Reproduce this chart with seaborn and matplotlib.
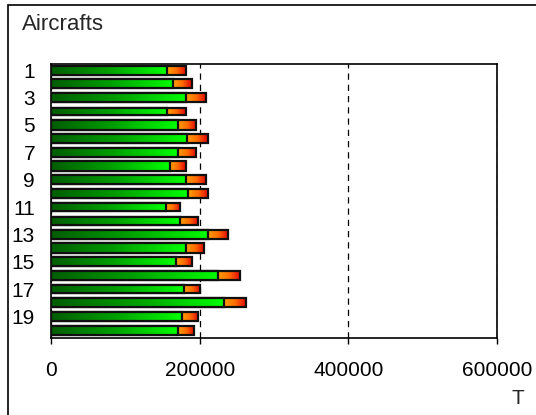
import numpy as np
import pandas as pd
import matplotlib
matplotlib.use("Agg")
import matplotlib.pyplot as plt
import seaborn as sns
from matplotlib.colors import LinearSegmentedColormap
from matplotlib.patches import Rectangle

# values
aircraft = [str(i) for i in range(1, 21)]
green_part = [155800, 164400, 181000, 156200, 170200, 183300, 170200, 159800, 181000, 183700,
              154400, 172900, 210800, 181000, 167500, 224800, 178300, 232500, 176100, 170200]
total = [181500, 189600, 208600, 181500, 195000, 210800, 195000, 181000, 208600, 210800,
         173800, 198200, 238400, 205400, 189600, 254600, 200400, 262800, 197700, 192300]
bar_thickness = [0.68, 0.66, 0.68, 0.53, 0.68, 0.68, 0.68, 0.66, 0.68, 0.68,
                 0.52, 0.60, 0.70, 0.68, 0.66, 0.70, 0.52, 0.68, 0.68, 0.66]
x_ticks = [0, 200000, 400000, 600000]

df = pd.DataFrame({"aircraft": aircraft, "green": green_part, "total": total})

sns.set_theme(style="white")
plt.rcParams["font.family"] = ["Liberation Sans", "DejaVu Sans"]

fig = plt.figure(figsize=(5.36, 4.15), dpi=100)
ax = fig.add_axes([51 / 536, 1 - 338 / 415, 446 / 536, 274 / 415])

sns.barplot(data=df, x="total", y="aircraft", orient="h", color="#ff8000",
            edgecolor="#101010", linewidth=1.6, ax=ax)
sns.barplot(data=df, x="green", y="aircraft", orient="h", color="#00c000",
            edgecolor="#101010", linewidth=1.6, ax=ax)

green_cmap = LinearSegmentedColormap.from_list("g", ["#005c00", "#00a000", "#00ff00"])
orange_cmap = LinearSegmentedColormap.from_list("o", ["#ffa000", "#ff6a00", "#e00000"])
grad = np.linspace(0, 1, 256).reshape(1, -1)

n = len(aircraft)
for k, patch in enumerate(ax.patches[:2 * n]):
    i = k % n
    h = bar_thickness[i]
    patch.set_y(i - h / 2)
    patch.set_height(h)
    if k < n:
        # orange part only between the green end and the total
        x0, x1, cmap, base = green_part[i], total[i], orange_cmap, 2
    else:
        x0, x1, cmap, base = 0, green_part[i], green_cmap, 3
    ax.imshow(grad, cmap=cmap, extent=[x0, x1, i + h / 2, i - h / 2],
              aspect="auto", interpolation="bilinear", zorder=base)
    patch.set_facecolor("none")
    patch.set_zorder(base + 0.5)

ax.set_xlim(0, 600000)
ax.set_ylim(19.58, -0.46)
ax.set_xticks(x_ticks)
ax.set_xticklabels([str(v) for v in x_ticks])
ax.set_yticks(range(0, n, 2))
ax.set_yticklabels(aircraft[::2])
ax.set_xlabel("")
ax.set_ylabel("")

ax.set_axisbelow(True)
ax.grid(axis="x", color="black", linestyle=(0, (5, 4)), linewidth=0.9)
ax.grid(axis="y", visible=False)
for s in ax.spines.values():
    s.set_color("black")
    s.set_linewidth(1.2)

ax.tick_params(axis="x", bottom=True, length=4, width=1, color="black",
               pad=12.5, labelsize=15, labelcolor="black")
ax.tick_params(axis="y", left=False, length=0, pad=11.5, labelsize=15, labelcolor="black")

fig.text(22 / 536, 1 - 25 / 415, "Aircrafts", ha="left", va="center", fontsize=16)
fig.text(518 / 536, 1 - 398 / 415, "T", ha="center", va="center", fontsize=15)

frame_top = 1 - 5.5 / 415
fig.patches.append(Rectangle((7.5 / 536, -0.2), 1.2, frame_top + 0.2,
                             transform=fig.transFigure, fill=False,
                             edgecolor="black", linewidth=1.2))

fig.savefig("out.png", dpi=100, facecolor="white")
